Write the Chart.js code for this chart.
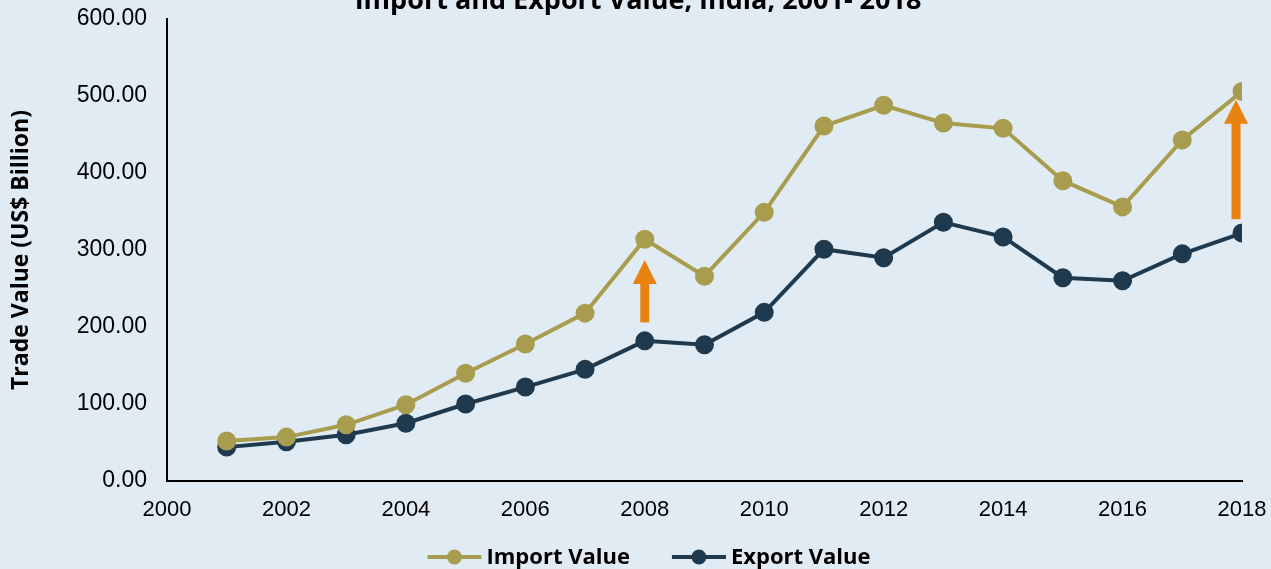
<!DOCTYPE html>
<html>
<head>
<meta charset="utf-8">
<script src="https://cdn.jsdelivr.net/npm/chart.js@4"></script>
<style>
  html, body { margin: 0; padding: 0; background: #E1EBF4; }
  #wrap { width: 1271px; height: 569px; position: relative; }
</style>
</head>
<body>
<div id="wrap"><canvas id="chartTrade"></canvas></div>
<script>
const years = [2001, 2002, 2003, 2004, 2005, 2006, 2007, 2008, 2009, 2010, 2011, 2012, 2013, 2014, 2015, 2016, 2017, 2018];
const importValue = [52, 57, 73, 99, 140, 178, 218, 314, 266, 349, 461, 488, 465, 458, 390, 356, 443, 506];
const exportValue = [44, 51, 60, 75, 100, 122, 145, 182, 177, 219, 301, 290, 336, 317, 264, 260, 295, 322];
const yTicks = [0, 100, 200, 300, 400, 500, 600];
const xTicks = [2000, 2002, 2004, 2006, 2008, 2010, 2012, 2014, 2016, 2018];
// orange arrows: x position (year), from value, to value
const arrowX = [2008, 2017.9];
const arrowFrom = [206, 340];
const arrowTo = [287, 495];

const IMPORT_COLOR = '#A89D4E';
const EXPORT_COLOR = '#1F3A4F';
const ARROW_COLOR = '#E8820E';

const arrowsPlugin = {
  id: 'arrows',
  afterDatasetsDraw(chart) {
    const { ctx, scales: { x, y } } = chart;
    ctx.save();
    ctx.fillStyle = ARROW_COLOR;
    arrowX.forEach((yr, i) => {
      const px = x.getPixelForValue(yr);
      const yb = y.getPixelForValue(arrowFrom[i]);
      const yt = y.getPixelForValue(arrowTo[i]);
      const headH = 24, headW = 12, shaft = 4.5;
      ctx.fillRect(px - shaft, yt + headH - 1, shaft * 2, yb - yt - headH + 1);
      ctx.beginPath();
      ctx.moveTo(px, yt);
      ctx.lineTo(px + headW, yt + headH);
      ctx.lineTo(px - headW, yt + headH);
      ctx.closePath();
      ctx.fill();
    });
    ctx.restore();
  }
};

// title (cut at the top edge) and the line+marker legend
const extrasPlugin = {
  id: 'extras',
  afterDraw(chart) {
    const ctx = chart.ctx;
    ctx.save();
    ctx.fillStyle = '#000';
    ctx.font = 'bold 27px "Open Sans", sans-serif';
    ctx.textAlign = 'center';
    ctx.textBaseline = 'alphabetic';
    ctx.fillText('Import and Export Value, India, 2001- 2018', 638, 9);

    ctx.font = 'bold 22px "Open Sans", sans-serif';
    ctx.textAlign = 'left';
    ctx.textBaseline = 'middle';
    const items = chart.data.datasets.map(d => ({ text: d.label, color: d.borderColor, w: ctx.measureText(d.label).width }));
    const iconW = 54, gapText = 5, gapItem = 42;
    const total = items.reduce((s, it) => s + iconW + gapText + it.w, 0) + gapItem * (items.length - 1);
    let x = 649 - total / 2;
    const y = 557;
    items.forEach(it => {
      ctx.strokeStyle = it.color; ctx.lineWidth = 4;
      ctx.beginPath(); ctx.moveTo(x, y); ctx.lineTo(x + iconW, y); ctx.stroke();
      ctx.fillStyle = it.color;
      ctx.beginPath(); ctx.arc(x + iconW / 2, y, 7.5, 0, Math.PI * 2); ctx.fill();
      ctx.fillStyle = '#000';
      ctx.fillText(it.text, x + iconW + gapText, y + 1);
      x += iconW + gapText + it.w + gapItem;
    });
    ctx.restore();
  }
};

const ctx = document.getElementById('chartTrade');
new Chart(ctx.getContext('2d'), {
  type: 'line',
  data: {
    datasets: [
      {
        label: 'Import Value',
        data: years.map((yr, i) => ({ x: yr, y: importValue[i] })),
        borderColor: IMPORT_COLOR, backgroundColor: IMPORT_COLOR,
        borderWidth: 4, pointRadius: 7.5, pointHoverRadius: 7.5, tension: 0
      },
      {
        label: 'Export Value',
        data: years.map((yr, i) => ({ x: yr, y: exportValue[i] })),
        borderColor: EXPORT_COLOR, backgroundColor: EXPORT_COLOR,
        borderWidth: 4, pointRadius: 7.5, pointHoverRadius: 7.5, tension: 0
      }
    ]
  },
  options: {
    responsive: true,
    maintainAspectRatio: false,
    animation: false,
    layout: { padding: { top: 19, right: 29, left: 0, bottom: 0 } },
    scales: {
      x: {
        type: 'linear', min: 2000, max: 2018,
        afterBuildTicks: s => { s.ticks = xTicks.map(v => ({ value: v })); },
        afterFit: s => { s.height = 88; s.paddingLeft = 0; s.paddingRight = 0; },
        grid: { display: false, drawTicks: false },
        border: { color: '#000', width: 2 },
        ticks: { color: '#000', font: { family: '"Liberation Sans", Arial', size: 22 }, padding: 16, maxRotation: 0, callback: v => String(v) }
      },
      y: {
        min: 0, max: 600,
        afterBuildTicks: s => { s.ticks = yTicks.map(v => ({ value: v })); },
        afterFit: s => { s.width = 167; s.paddingTop = 0; s.paddingBottom = 0; },
        grid: { display: false, drawTicks: false },
        border: { color: '#000', width: 2 },
        ticks: { color: '#000', font: { family: '"Liberation Sans", Arial', size: 23 }, padding: 20, callback: v => Number(v).toFixed(2) },
        title: { display: true, text: 'Trade Value (US$ Billion)', color: '#000', font: { family: '"Open Sans", sans-serif', size: 23, weight: 'bold' }, padding: { top: 8, bottom: 0 } }
      }
    },
    plugins: {
      title: { display: false },
      tooltip: { enabled: false },
      legend: { display: false }
    }
  },
  plugins: [arrowsPlugin, extrasPlugin]
});
</script>
</body>
</html>
